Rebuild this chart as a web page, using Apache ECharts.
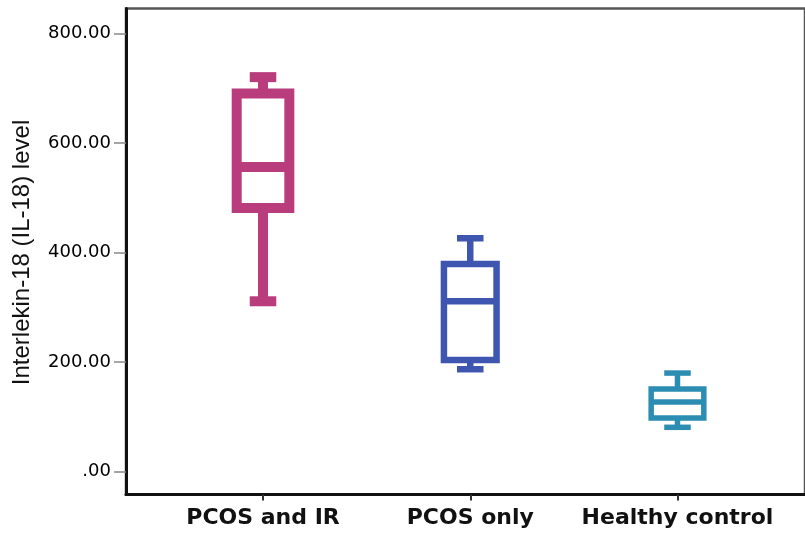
<!DOCTYPE html>
<html>
<head>
<meta charset="utf-8">
<script src="https://cdn.jsdelivr.net/npm/echarts@6/dist/echarts.min.js"></script>
<style>
html,body{margin:0;padding:0;background:#fff;}
#chart{width:805px;height:535px;}
</style>
</head>
<body>
<div id="chart"></div>
<script>
// ---- data ----
const categories = ['PCOS and IR', 'PCOS only', 'Healthy control'];
const whiskerLow  = [311, 187, 81];
const q1Values    = [481, 204, 98];
const medianValues= [556, 311, 127];
const q3Values    = [690, 379, 151];
const whiskerHigh = [720, 426, 180];
const yTickValues = [0, 200, 400, 600, 800];
const yTickLabels = ['.00', '200.00', '400.00', '600.00', '800.00'];
const yAxisTitle  = 'Interlekin-18 (IL-18) level';

// ---- styles ----
const boxColors = ['#B93C7D', '#3F56B0', '#2C8DB2'];
const boxLineWidths = [10, 6.5, 5.5];

const boxData = categories.map((c, i) => [i, whiskerLow[i], q1Values[i], medianValues[i], q3Values[i], whiskerHigh[i]]);

function renderItem(params, api) {
  const i = api.value(0);
  const band = api.size([1, 0])[0];
  const x = api.coord([i, 0])[0];
  const yMin = api.coord([i, api.value(1)])[1];
  const yQ1 = api.coord([i, api.value(2)])[1];
  const yMed = api.coord([i, api.value(3)])[1];
  const yQ3 = api.coord([i, api.value(4)])[1];
  const yMax = api.coord([i, api.value(5)])[1];
  const boxW = band * 0.254;
  const capW = band * 0.128;
  const color = boxColors[params.dataIndex];
  const lw = boxLineWidths[params.dataIndex];
  const st = {stroke: color, lineWidth: lw, fill: null, lineCap: 'butt', lineJoin: 'miter'};
  return {
    type: 'group',
    children: [
      {type: 'line', shape: {x1: x, y1: yQ3, x2: x, y2: yMax}, style: st},
      {type: 'line', shape: {x1: x, y1: yQ1, x2: x, y2: yMin}, style: st},
      {type: 'line', shape: {x1: x - capW / 2, y1: yMax, x2: x + capW / 2, y2: yMax}, style: st},
      {type: 'line', shape: {x1: x - capW / 2, y1: yMin, x2: x + capW / 2, y2: yMin}, style: st},
      {type: 'rect', shape: {x: x - boxW / 2, y: yQ3, width: boxW, height: yQ1 - yQ3}, style: Object.assign({}, st, {fill: '#ffffff'})},
      {type: 'line', shape: {x1: x - boxW / 2, y1: yMed, x2: x + boxW / 2, y2: yMed}, style: st}
    ]
  };
}

const chart = echarts.init(document.getElementById('chart'), null, {renderer: 'canvas'});
chart.setOption({
  backgroundColor: '#ffffff',
  animation: false,
  grid: [
    // frame (visible plot border and axis lines)
    {left: 126, top: 8.5, width: 720, height: 486, show: true, borderColor: '#555', borderWidth: 2.5, backgroundColor: 'transparent'},
    // data area (0..800 scale)
    {left: 159.4, top: 33.3, width: 621.7, height: 438.4},
    // category labels along the bottom frame line
    {left: 159.4, top: 8.5, width: 621.7, height: 486}
  ],
  xAxis: [
    {gridIndex: 0, type: 'value', min: 0, max: 1,
     axisLine: {show: true, lineStyle: {color: '#111', width: 3}},
     axisTick: {show: false}, axisLabel: {show: false}, splitLine: {show: false}},
    {gridIndex: 1, type: 'category', data: categories, boundaryGap: true, show: false},
    {gridIndex: 2, type: 'category', data: categories, boundaryGap: true,
     axisLine: {show: false},
     axisTick: {show: true, alignWithLabel: true, length: 6, lineStyle: {color: '#333', width: 2}},
     axisLabel: {interval: 0, margin: 13, fontFamily: 'DejaVu Sans', fontSize: 22, fontWeight: 'bold', color: '#111'},
     splitLine: {show: false}}
  ],
  yAxis: [
    {gridIndex: 0, type: 'value', min: 0, max: 1,
     axisLine: {show: true, lineStyle: {color: '#111', width: 3}},
     axisTick: {show: false}, axisLabel: {show: false}, splitLine: {show: false}},
    {gridIndex: 1, type: 'value', min: 0, max: 800, interval: 200, offset: 33.4,
     axisLine: {show: false},
     axisTick: {show: true, length: 12, lineStyle: {color: '#888', width: 1.5}},
     axisLabel: {margin: 15, fontFamily: 'DejaVu Sans', fontSize: 18, color: '#000',
       formatter: v => yTickLabels[yTickValues.indexOf(v)]},
     splitLine: {show: false},
     name: yAxisTitle, nameLocation: 'middle', nameGap: 92,
     nameTextStyle: {fontFamily: 'Liberation Sans', fontSize: 24, color: '#111'}},
    {gridIndex: 2, type: 'value', min: 0, max: 1, show: false}
  ],
  series: [{
    type: 'custom',
    xAxisIndex: 1, yAxisIndex: 1,
    renderItem: renderItem,
    encode: {x: 0, y: [1, 2, 3, 4, 5]},
    data: boxData
  }]
});
</script>
</body>
</html>
